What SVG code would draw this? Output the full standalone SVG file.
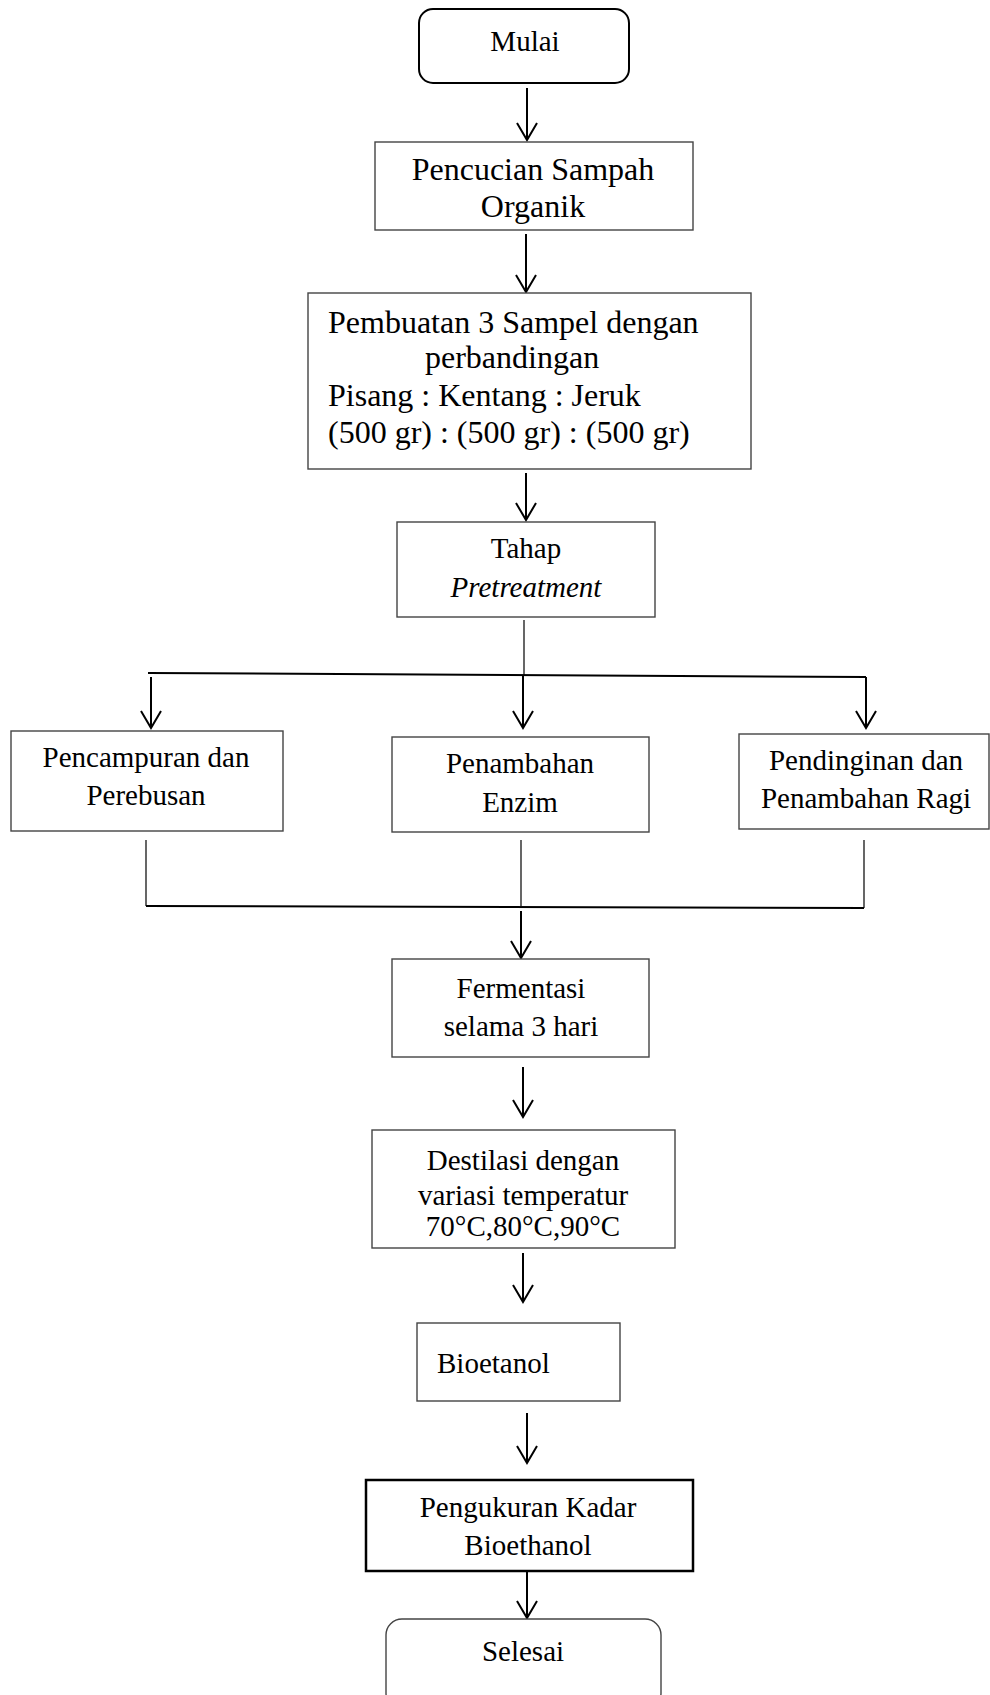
<svg xmlns="http://www.w3.org/2000/svg" width="990" height="1695" viewBox="0 0 990 1695">
<style>
.box{fill:#fff;stroke:#444;stroke-width:1.4}
.bold{fill:#fff;stroke:#000;stroke-width:2.5}
.t{font-family:"Liberation Serif","Times New Roman",serif;fill:#000;text-anchor:middle}
.st{text-anchor:start}
.s29{font-size:29px}
.s32{font-size:32px}
.ln{stroke:#000;stroke-width:2;fill:none}
.thin{stroke:#000;stroke-width:1.2;fill:none}
.arr{stroke:#000;stroke-width:2;fill:none;marker-end:url(#ah)}
</style>
<defs>
<marker id="ah" markerUnits="userSpaceOnUse" markerWidth="40" markerHeight="40" viewBox="-20 -20 40 40" refX="0" refY="0" orient="auto" overflow="visible">
<path d="M-17,-10 L0,0 L-17,10" fill="none" stroke="#000" stroke-width="2"/>
</marker>
</defs>
<rect width="990" height="1695" fill="#fff"/>
<g id="connectors">
<line class="arr" x1="527" y1="88" x2="527" y2="140"/>
<line class="arr" x1="526" y1="234" x2="526" y2="292"/>
<line class="arr" x1="526" y1="473" x2="526" y2="520"/>
<line class="thin" x1="524" y1="620" x2="524" y2="676"/>
<line class="ln" x1="148" y1="673" x2="866" y2="677"/>
<line class="arr" x1="151" y1="677" x2="151" y2="728"/>
<line class="arr" x1="523" y1="676" x2="523" y2="728"/>
<line class="arr" x1="866" y1="677" x2="866" y2="728"/>
<line class="thin" x1="146" y1="840" x2="146" y2="906"/>
<line class="thin" x1="521" y1="840" x2="521" y2="906"/>
<line class="thin" x1="864" y1="840" x2="864" y2="908"/>
<line class="ln" x1="146" y1="906" x2="864" y2="908"/>
<line class="arr" x1="521" y1="911" x2="521" y2="958"/>
<line class="arr" x1="523" y1="1067" x2="523" y2="1117"/>
<line class="arr" x1="523" y1="1253" x2="523" y2="1302"/>
<line class="arr" x1="527" y1="1413" x2="527" y2="1463"/>
<line class="arr" x1="527" y1="1571" x2="527" y2="1618"/>
</g>
<g id="mulai">
<rect x="419" y="9" width="210" height="74" rx="14" ry="14" fill="#fff" stroke="#000" stroke-width="2"/>
<text class="t" x="525" y="51" font-size="29">Mulai</text>
</g>
<g id="pencucian">
<rect class="box" x="375" y="142" width="318" height="88"/>
<text class="t s32" x="533" y="180">Pencucian Sampah</text>
<text class="t s32" x="533" y="217">Organik</text>
</g>
<g id="pembuatan">
<rect class="box" x="308" y="293" width="443" height="176"/>
<text class="t s32 st" x="328" y="333">Pembuatan 3 Sampel dengan</text>
<text class="t s32 st" x="425" y="368">perbandingan</text>
<text class="t s32 st" x="328" y="406">Pisang : Kentang : Jeruk</text>
<text class="t s32 st" x="328" y="443">(500 gr) : (500 gr) : (500 gr)</text>
</g>
<g id="tahap">
<rect class="box" x="397" y="522" width="258" height="95"/>
<text class="t s29" x="526" y="558">Tahap</text>
<text class="t s29" x="526" y="597" font-style="italic">Pretreatment</text>
</g>
<g id="pencampuran">
<rect class="box" x="11" y="731" width="272" height="100"/>
<text class="t s29" x="146" y="767">Pencampuran dan</text>
<text class="t s29" x="146" y="805">Perebusan</text>
</g>
<g id="penambahan-enzim">
<rect class="box" x="392" y="737" width="257" height="95"/>
<text class="t s29" x="520" y="773">Penambahan</text>
<text class="t s29" x="520" y="812">Enzim</text>
</g>
<g id="pendinginan">
<rect class="box" x="739" y="734" width="250" height="95"/>
<text class="t s29" x="866" y="770">Pendinginan dan</text>
<text class="t s29" x="866" y="808">Penambahan Ragi</text>
</g>
<g id="fermentasi">
<rect class="box" x="392" y="959" width="257" height="98"/>
<text class="t s29" x="521" y="998">Fermentasi</text>
<text class="t s29" x="521" y="1036">selama 3 hari</text>
</g>
<g id="destilasi">
<rect class="box" x="372" y="1130" width="303" height="118"/>
<text class="t s29" x="523" y="1170">Destilasi dengan</text>
<text class="t s29" x="523" y="1205">variasi temperatur</text>
<text class="t s29" x="523" y="1236">70°C,80°C,90°C</text>
</g>
<g id="bioetanol">
<rect class="box" x="417" y="1323" width="203" height="78"/>
<text class="t s29 st" x="437" y="1373">Bioetanol</text>
</g>
<g id="pengukuran">
<rect class="bold" x="366" y="1480" width="327" height="91"/>
<text class="t s29" x="528" y="1517">Pengukuran Kadar</text>
<text class="t s29" x="528" y="1555">Bioethanol</text>
</g>
<g id="selesai">
<rect class="box" x="386" y="1619" width="275" height="90" rx="16" ry="16"/>
<text class="t s29" x="523" y="1661">Selesai</text>
</g>
</svg>
